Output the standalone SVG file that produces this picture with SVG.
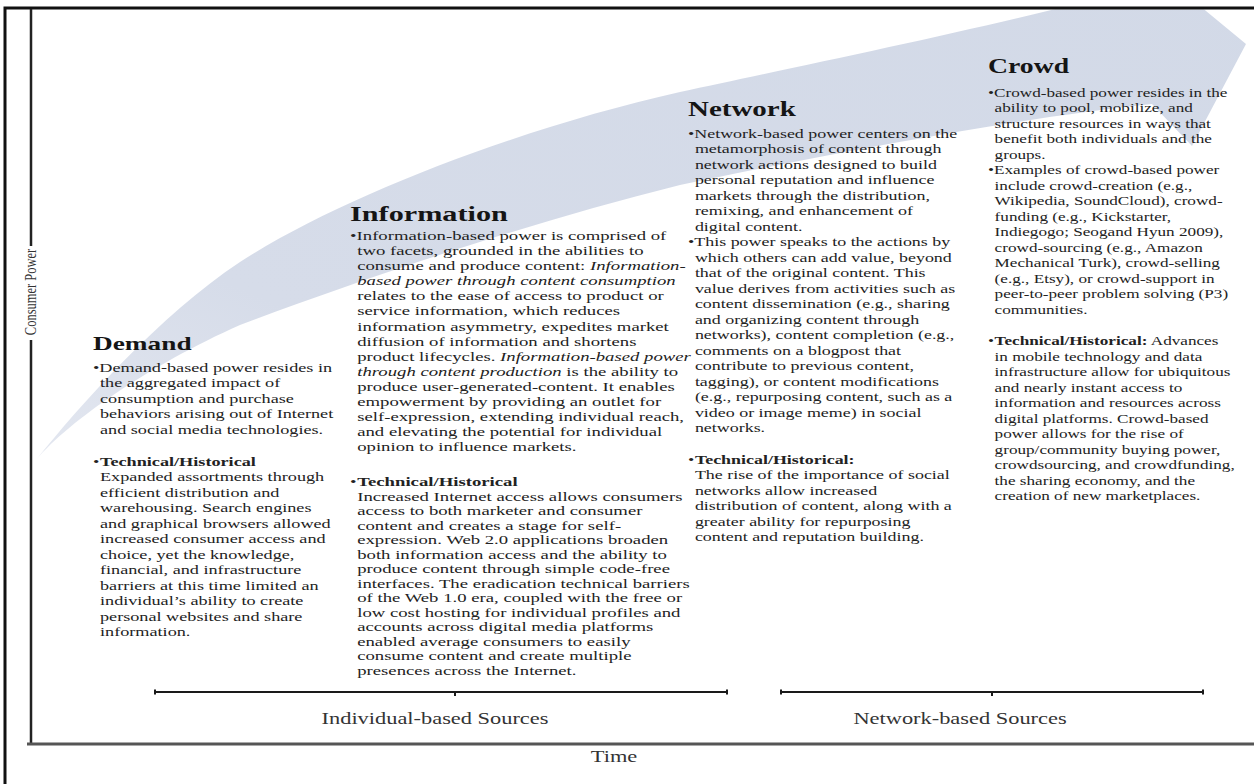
<svg xmlns="http://www.w3.org/2000/svg" width="1254" height="784" viewBox="0 0 1254 784">
  <style>
    .t { font-family: "Liberation Serif", "Times New Roman", serif; font-size: 13px; fill: #222; }
    .h { font-family: "Liberation Serif", "Times New Roman", serif; font-size: 21px; font-weight: bold; fill: #151515; }
    .b { font-weight: bold; }
    .i { font-style: italic; }
    .lbl { font-family: "Liberation Serif", "Times New Roman", serif; font-size: 16px; fill: #333; }
    .bracket { stroke: #1a1a1a; stroke-width: 2; fill: none; }
  </style>
  <defs>
    <clipPath id="inner">
      <rect x="6" y="9.5" width="1250" height="734"/>
    </clipPath>
    <linearGradient id="band" x1="0" y1="1" x2="1" y2="0">
      <stop offset="0" stop-color="#e3e7f0"/>
      <stop offset="0.25" stop-color="#d6dce9"/>
      <stop offset="1" stop-color="#d2d9e7"/>
    </linearGradient>
  </defs>

  <rect width="1254" height="784" fill="#fff"/>

  <!-- rising power arrow -->
  <g id="power-arrow" clip-path="url(#inner)">
    <path fill="url(#band)" d="M36,460 C80,405 160,315 240,262 C340,197 520,128 680,92 C800,66 1000,25 1130,-10 L1120,-60 L1246,44 L1192,146 L1152,104 C1000,120 800,160 680,185 C520,225 360,280 240,325 C150,365 70,420 36,460 Z"/>
  </g>

  <!-- frame and axes -->
  <g id="axes">
    <path d="M1258,8 H5 V788" fill="none" stroke="#111" stroke-width="3"/>
    <line x1="31" y1="9" x2="31" y2="745" stroke="#222" stroke-width="2.5"/>
    <line x1="27" y1="744" x2="1258" y2="744" stroke="#555" stroke-width="3"/>
    <rect x="19" y="246" width="24" height="94" fill="#fff"/>
    <g transform="translate(36,292) scale(1.4,1) rotate(-90)">
      <text class="lbl" x="0" y="0" text-anchor="middle" style="font-size:12.5px">Consumer Power</text>
    </g>
    <g transform="translate(614,762) scale(1.4,1)">
      <text class="lbl" x="0" y="0" text-anchor="middle">Time</text>
    </g>
  </g>

  <!-- source brackets -->
  <g id="connectors">
    <path class="bracket" d="M155,692 H727 M155,689.5 V694.5 M727,689.5 V694.5 M455,692 V696"/>
    <path class="bracket" d="M781,692 H1203 M781,689.5 V694.5 M1203,689.5 V694.5 M992,692 V696"/>
    <g transform="translate(435,724) scale(1.4,1)">
      <text class="lbl" x="0" y="0" text-anchor="middle">Individual-based Sources</text>
    </g>
    <g transform="translate(960,724) scale(1.4,1)">
      <text class="lbl" x="0" y="0" text-anchor="middle">Network-based Sources</text>
    </g>
  </g>

  <!-- Demand -->
  <g id="node-demand" transform="translate(93,0) scale(1.4,1)">
    <text class="h" x="0" y="350" style="font-size:19.5px">Demand</text>
    <text class="t" x="0" y="372">•Demand-based power resides in</text>
    <text class="t" x="5" y="387.5">the aggregated impact of</text>
    <text class="t" x="5" y="403">consumption and purchase</text>
    <text class="t" x="5" y="418.5">behaviors arising out of Internet</text>
    <text class="t" x="5" y="434">and social media technologies.</text>
    <text class="t" x="0" y="466">•<tspan class="b" x="5">Technical/Historical</tspan></text>
    <text class="t" x="5" y="481.5">Expanded assortments through</text>
    <text class="t" x="5" y="497">efficient distribution and</text>
    <text class="t" x="5" y="512.5">warehousing. Search engines</text>
    <text class="t" x="5" y="528">and graphical browsers allowed</text>
    <text class="t" x="5" y="543.5">increased consumer access and</text>
    <text class="t" x="5" y="559">choice, yet the knowledge,</text>
    <text class="t" x="5" y="574.5">financial, and infrastructure</text>
    <text class="t" x="5" y="590">barriers at this time limited an</text>
    <text class="t" x="5" y="605.5">individual’s ability to create</text>
    <text class="t" x="5" y="621">personal websites and share</text>
    <text class="t" x="5" y="636.5">information.</text>
  </g>

  <!-- Information -->
  <g id="node-information" transform="translate(350,0) scale(1.44,1)">
    <text class="h" x="0" y="221">Information</text>
    <text class="t" x="0" y="240">•Information-based power is comprised of</text>
    <text class="t" x="5" y="255.1">two facets, grounded in the abilities to</text>
    <text class="t" x="5" y="270.2">consume and produce content: <tspan class="i">Information-</tspan></text>
    <text class="t i" x="5" y="285.3">based power through content consumption</text>
    <text class="t" x="5" y="300.4">relates to the ease of access to product or</text>
    <text class="t" x="5" y="315.5">service information, which reduces</text>
    <text class="t" x="5" y="330.6">information asymmetry, expedites market</text>
    <text class="t" x="5" y="345.7">diffusion of information and shortens</text>
    <text class="t" x="5" y="360.8">product lifecycles. <tspan class="i">Information-based power</tspan></text>
    <text class="t" x="5" y="375.9"><tspan class="i">through content production</tspan> is the ability to</text>
    <text class="t" x="5" y="391">produce user-generated-content. It enables</text>
    <text class="t" x="5" y="406.1">empowerment by providing an outlet for</text>
    <text class="t" x="5" y="421.2">self-expression, extending individual reach,</text>
    <text class="t" x="5" y="436.3">and elevating the potential for individual</text>
    <text class="t" x="5" y="451.4">opinion to influence markets.</text>
    <text class="t" x="0" y="486">•<tspan class="b" x="5">Technical/Historical</tspan></text>
    <text class="t" x="5" y="501">Increased Internet access allows consumers</text>
    <text class="t" x="5" y="515.5">access to both marketer and consumer</text>
    <text class="t" x="5" y="530">content and creates a stage for self-</text>
    <text class="t" x="5" y="544.5">expression. Web 2.0 applications broaden</text>
    <text class="t" x="5" y="559">both information access and the ability to</text>
    <text class="t" x="5" y="573.5">produce content through simple code-free</text>
    <text class="t" x="5" y="588">interfaces. The eradication technical barriers</text>
    <text class="t" x="5" y="602.5">of the Web 1.0 era, coupled with the free or</text>
    <text class="t" x="5" y="617">low cost hosting for individual profiles and</text>
    <text class="t" x="5" y="631.5">accounts across digital media platforms</text>
    <text class="t" x="5" y="646">enabled average consumers to easily</text>
    <text class="t" x="5" y="660.5">consume content and create multiple</text>
    <text class="t" x="5" y="675">presences across the Internet.</text>
  </g>

  <!-- Network -->
  <g id="node-network" transform="translate(688,0) scale(1.38,1)">
    <text class="h" x="0" y="116">Network</text>
    <text class="t" x="0" y="138">•Network-based power centers on the</text>
    <text class="t" x="5" y="153.5">metamorphosis of content through</text>
    <text class="t" x="5" y="169">network actions designed to build</text>
    <text class="t" x="5" y="184.5">personal reputation and influence</text>
    <text class="t" x="5" y="200">markets through the distribution,</text>
    <text class="t" x="5" y="215.5">remixing, and enhancement of</text>
    <text class="t" x="5" y="231">digital content.</text>
    <text class="t" x="0" y="246.5">•This power speaks to the actions by</text>
    <text class="t" x="5" y="262">which others can add value, beyond</text>
    <text class="t" x="5" y="277.5">that of the original content. This</text>
    <text class="t" x="5" y="293">value derives from activities such as</text>
    <text class="t" x="5" y="308.5">content dissemination (e.g., sharing</text>
    <text class="t" x="5" y="324">and organizing content through</text>
    <text class="t" x="5" y="339.5">networks), content completion (e.g.,</text>
    <text class="t" x="5" y="355">comments on a blogpost that</text>
    <text class="t" x="5" y="370.5">contribute to previous content,</text>
    <text class="t" x="5" y="386">tagging), or content modifications</text>
    <text class="t" x="5" y="401.5">(e.g., repurposing content, such as a</text>
    <text class="t" x="5" y="417">video or image meme) in social</text>
    <text class="t" x="5" y="432.5">networks.</text>
    <text class="t" x="0" y="464">•<tspan class="b" x="5">Technical/Historical:</tspan></text>
    <text class="t" x="5" y="479.5">The rise of the importance of social</text>
    <text class="t" x="5" y="495">networks allow increased</text>
    <text class="t" x="5" y="510.5">distribution of content, along with a</text>
    <text class="t" x="5" y="526">greater ability for repurposing</text>
    <text class="t" x="5" y="541.5">content and reputation building.</text>
  </g>

  <!-- Crowd -->
  <g id="node-crowd" transform="translate(988,0) scale(1.32,1)">
    <text class="h" x="0" y="73">Crowd</text>
    <text class="t" x="0" y="97">•Crowd-based power resides in the</text>
    <text class="t" x="5" y="112.5">ability to pool, mobilize, and</text>
    <text class="t" x="5" y="128">structure resources in ways that</text>
    <text class="t" x="5" y="143.5">benefit both individuals and the</text>
    <text class="t" x="5" y="159">groups.</text>
    <text class="t" x="0" y="174.5">•Examples of crowd-based power</text>
    <text class="t" x="5" y="190">include crowd-creation (e.g.,</text>
    <text class="t" x="5" y="205.5">Wikipedia, SoundCloud), crowd-</text>
    <text class="t" x="5" y="221">funding (e.g., Kickstarter,</text>
    <text class="t" x="5" y="236.5">Indiegogo; Seogand Hyun 2009),</text>
    <text class="t" x="5" y="252">crowd-sourcing (e.g., Amazon</text>
    <text class="t" x="5" y="267.5">Mechanical Turk), crowd-selling</text>
    <text class="t" x="5" y="283">(e.g., Etsy), or crowd-support in</text>
    <text class="t" x="5" y="298.5">peer-to-peer problem solving (P3)</text>
    <text class="t" x="5" y="314">communities.</text>
    <text class="t" x="0" y="345.5">•<tspan class="b" x="5">Technical/Historical:</tspan> Advances</text>
    <text class="t" x="5" y="361">in mobile technology and data</text>
    <text class="t" x="5" y="376.5">infrastructure allow for ubiquitous</text>
    <text class="t" x="5" y="392">and nearly instant access to</text>
    <text class="t" x="5" y="407.5">information and resources across</text>
    <text class="t" x="5" y="423">digital platforms. Crowd-based</text>
    <text class="t" x="5" y="438.5">power allows for the rise of</text>
    <text class="t" x="5" y="454">group/community buying power,</text>
    <text class="t" x="5" y="469.5">crowdsourcing, and crowdfunding,</text>
    <text class="t" x="5" y="485">the sharing economy, and the</text>
    <text class="t" x="5" y="500.5">creation of new marketplaces.</text>
  </g>
</svg>
